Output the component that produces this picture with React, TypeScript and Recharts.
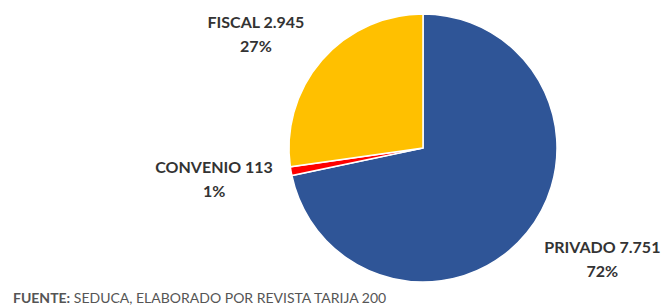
import { PieChart, Pie, Cell } from 'recharts';

const categories = ['PRIVADO', 'CONVENIO', 'FISCAL'];
const students = [7751, 113, 2945];
const colors = ['#2F5597', '#FF0000', '#FFC000'];
const source = 'SEDUCA, ELABORADO POR REVISTA TARIJA 200';

const data = categories.map((name, i) => ({ name, value: students[i] }));

// small hand nudges so labels land where the original's "best fit" put them
const nudge: Record<string, [number, number]> = {
  PRIVADO: [21, -24],
  CONVENIO: [-8, -10],
  FISCAL: [-13, 14],
};

const RAD = Math.PI / 180;
const fmt = (v: number) => String(v).replace(/\B(?=(\d{3})+(?!\d))/g, '.');

const renderLabel = (p: any) => {
  const r = p.outerRadius + 70;
  const [nx, ny] = nudge[p.name] || [0, 0];
  const x = p.cx + r * Math.cos(-p.midAngle * RAD) + nx;
  const y = p.cy + r * Math.sin(-p.midAngle * RAD) + ny;
  return (
    <text
      x={x}
      y={y}
      textAnchor="middle"
      fill="#333"
      fontFamily="Lato"
      fontWeight="bold"
      fontSize={16}
    >
      <tspan x={x}>{`${p.name} ${fmt(p.value)}`}</tspan>
      <tspan x={x} dy={24}>{`${Math.round(p.percent * 100)}%`}</tspan>
    </text>
  );
};

export default function App() {
  return (
    <div style={{ position: 'absolute', left: 0, top: 0, width: 664, height: 306, background: '#fff' }}>
      <PieChart width={664} height={306} margin={{ top: 0, right: 0, bottom: 0, left: 0 }}>
        <Pie
          data={data}
          dataKey="value"
          nameKey="name"
          cx={423}
          cy={148}
          outerRadius={134}
          startAngle={90}
          endAngle={-270}
          stroke="#fff"
          strokeWidth={1.5}
          label={renderLabel}
          labelLine={false}
          isAnimationActive={false}
        >
          {data.map((d, i) => (
            <Cell key={d.name} fill={colors[i]} />
          ))}
        </Pie>
      </PieChart>
      <div
        style={{
          position: 'absolute',
          left: 13,
          top: 289,
          fontFamily: 'Lato',
          fontSize: 14,
          color: '#555',
          whiteSpace: 'nowrap',
        }}
      >
        <b>FUENTE:</b> {source}
      </div>
    </div>
  );
}
